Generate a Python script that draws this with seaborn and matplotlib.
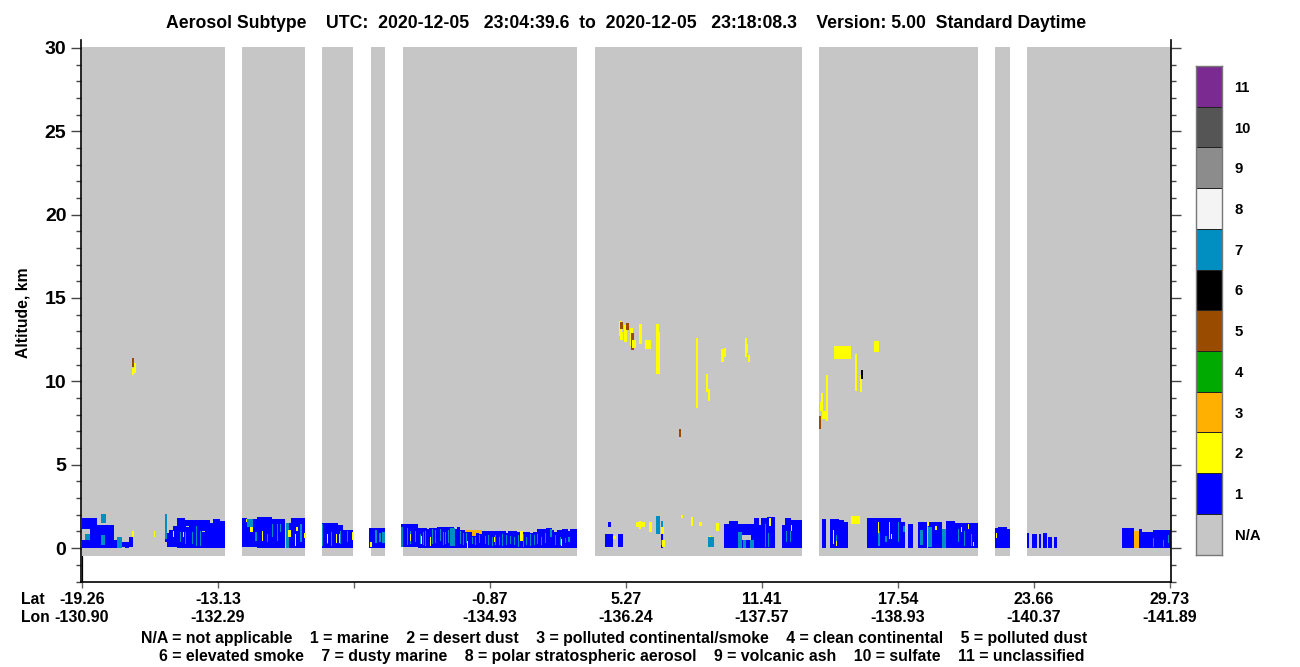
import numpy as np
import matplotlib
matplotlib.use("Agg")
import matplotlib.pyplot as plt
from matplotlib.colors import ListedColormap
import seaborn as sns

# ==========================================
# DATA (profile number along track, km)
# ==========================================

n_profiles = 1089
alt_bottom = -0.46
alt_top = 30.06
alt_step = 0.06

# stretches of track with data (profile start, profile end)
swaths = [(0, 143), (160, 223), (240, 271), (289, 303), (321, 495),
          (513, 720), (737, 896), (913, 928), (945, 1089)]

# layers: (profile start, profile end, base km, top km)
marine = [
    (0, 15, 1.16, 1.8), (0, 32, 1.16, 1.42), (8, 32, .5, 1.16), (0, 36, 0, .5),
    (40, 43, .06, .36), (43, 47, 0, .36), (47, 51, .06, .66),
    (83, 85, .4, .56), (85, 87, .1, .9), (87, 91, .06, 1.1), (91, 95, .1, 1.36),
    (95, 103, 0, 1.8), (103, 128, 0, 1.7), (128, 131, 0, 1.5), (131, 138, 0, 1.74), (138, 143, 0, 1.64),
    (160, 165, .06, 1.8), (165, 175, .06, 1.74), (175, 190, .02, 1.86), (190, 203, .02, 1.78),
    (207, 209, 0, 1.54), (209, 223, 0, 1.8),
    (240, 256, 0, 1.5), (256, 261, 0, 1.4), (261, 271, 0, 1.1),
    (287, 303, 0, 1.2),
    (319, 336, .06, 1.44), (336, 355, .02, 1.2), (355, 378, .02, 1.28), (378, 398, .02, 1.1),
    (398, 435, .02, 1.04), (435, 455, .02, 1.0), (455, 464, .02, 1.14), (464, 470, .02, 1.24),
    (470, 480, .02, 1.09), (480, 495, .02, 1.18),
    (526, 529, 1.26, 1.56), (523, 531, .06, .86), (536, 541, .06, .86), (579, 581, 0, .86),
    (642, 647, 0, 1.46), (647, 656, 0, 1.64), (656, 672, 0, 1.46), (672, 677, 0, 1.8),
    (677, 679, 0, 1.4), (679, 685, 0, 1.8), (685, 693, 0, 1.86),
    (700, 703, 0, 1.4), (703, 709, 0, 1.8), (709, 720, 0, 1.7),
    (740, 744, 0, 1.76), (748, 757, 0, 1.76), (757, 762, 0, 1.7), (762, 766, 0, 1.6),
    (785, 819, 0, 1.8), (819, 823, 0, 1.6), (826, 831, 0, 1.44), (836, 845, 0, 1.6),
    (846, 860, 0, 1.6), (864, 873, 0, 1.66), (873, 896, 0, 1.5),
    (913, 916, 0, 1.24), (916, 925, 0, 1.26), (925, 928, 0, 1.14),
    (945, 947, 0, .9), (950, 955, 0, .86), (957, 959, 0, .86), (961, 965, 0, .9),
    (966, 970, 0, .7), (972, 975, 0, .7),
    (1040, 1052, 0, 1.2), (1057, 1060, 0, 1.14), (1060, 1071, 0, .96), (1071, 1089, 0, 1.1),
]

# clear holes inside the marine layer
clear_air = [(104, 107, 1.26, 1.32), (120, 123, .98, 1.04), (660, 669, .5, .82), (677, 679, 1.4, 1.8),
             (807, 808, .56, 1.6), (345, 347, 1.14, 1.2), (372, 375, 1.18, 1.28), (424, 426, .94, 1.04),
             (448, 451, .92, 1.0), (472, 475, .99, 1.09), (486, 488, 1.04, 1.18)]

dusty_marine = [
    (19, 24, 1.54, 2.06), (3, 8, .5, .86), (19, 23, .22, .82), (35, 40, 0, .7),
    (83, 85, .56, 2.06), (98, 99, .36, .96), (103, 104, .26, .96), (110, 111, .26, .96),
    (114, 115, .16, 1.36), (118, 119, .16, 1.06),
    (165, 171, 1.3, 1.76), (173, 175, .46, .96), (185, 186, .36, .86), (190, 191, .66, 1.46),
    (195, 196, .46, 1.46), (198, 199, .96, 1.46), (204, 207, 0, 1.54), (218, 220, .36, 1.46),
    (240, 241, .16, 1.46), (245, 246, .26, .86), (249, 250, .16, .96), (258, 259, .26, 1.06), (265, 266, .36, 1.06),
    (293, 295, .3, 1.1), (297, 299, .4, .9), (300, 303, .3, 1.0),
    (319, 321, .06, 1.26), (325, 326, .2, 1.2), (328, 329, .26, 1.06), (333, 334, .36, 1.06), (338, 339, .26, .86),
    (341, 342, .2, 1.0), (343, 344, .16, 1.06), (350, 351, .26, 1.16), (353, 354, .3, 1.1),
    (358, 359, .46, 1.16), (361, 362, .2, 1.0), (363, 364, .26, .96), (366, 367, .3, 1.1),
    (368, 373, .16, 1.22), (378, 379, .26, 1.06), (381, 382, .2, .9), (384, 385, .3, .9),
    (390, 391, .26, .66), (393, 394, .2, .7), (397, 398, .3, .8), (403, 404, .26, .76),
    (406, 407, .2, .8), (410, 411, .16, .66), (413, 414, .2, .8), (417, 418, .2, .7),
    (420, 421, .16, .86), (424, 425, .2, .8), (428, 429, .26, .76), (432, 433, .2, .7), (436, 437, .1, .8),
    (441, 442, .06, .86), (444, 445, .2, .7), (448, 449, .16, .86), (452, 453, .2, .8), (455, 456, .26, .86),
    (459, 460, .2, .7), (463, 464, .3, .9), (468, 470, .66, 1.16), (473, 474, .2, .8), (478, 479, .2, .7),
    (483, 484, .3, .6), (486, 488, .36, .66),
    (574, 578, .86, 1.96), (579, 581, 1.3, 1.62), (579, 581, .2, .5),
    (626, 632, .06, .7), (656, 660, 0, .96), (661, 664, 0, .5), (668, 672, 0, .5),
    (683, 684, .1, 1.46), (686, 687, .1, .9), (704, 705, .36, 1.06), (708, 709, .36, 1.06),
    (754, 755, .4, .8), (772, 774, 1.76, 1.96), (796, 798, .16, 1.06), (803, 805, .36, .76),
    (816, 817, .36, 1.56), (821, 823, .96, 1.36), (838, 841, .2, 1.1), (846, 850, .1, 1.26),
    (860, 864, 0, 1.16), (876, 877, .36, 1.16), (882, 883, .16, 1.06), (889, 890, .16, .86),
    (1071, 1072, .1, .6), (1081, 1082, .1, .5), (1086, 1087, .3, .8),
]

desert_dust = [
    (50, 52, .7, 1.06), (72, 73, .7, 1.06), (91, 92, .7, 1.06), (101, 102, .7, .96),
    (164, 165, 1.56, 1.76), (168, 171, .96, 1.3), (180, 181, .42, 1.06),
    (206, 209, .7, 1.1), (213, 214, .16, .86), (214, 216, 1.02, 1.3), (222, 224, .6, .94),
    (245, 246, .3, .86), (254, 255, .3, .86), (257, 258, .3, .86), (270, 271, .5, .96),
    (288, 290, .1, .36), (328, 329, .46, .86), (339, 340, .26, .76), (348, 349, .16, .66),
    (385, 386, 0, .46), (412, 413, .36, .66), (438, 441, .46, 1.06), (479, 480, .16, .56),
    (531, 534, .56, .76), (554, 563, 1.26, 1.56), (557, 559, 1.16, 1.66), (567, 570, .96, 1.56),
    (568, 570, .96, 1.56), (579, 582, .86, 1.3), (580, 583, .1, .5),
    (599, 601, 1.8, 2.02), (609, 611, 1.36, 1.86), (617, 620, 1.36, 1.6), (634, 637, 1.06, 1.54),
    (627, 629, .7, .76), (687, 689, 1.36, 1.82), (709, 710, 1.02, 1.42),
    (751, 752, .26, 1.1), (754, 755, .16, .46), (769, 778, 1.46, 1.96),
    (796, 797, .9, 1.6), (809, 810, .56, .86), (845, 847, 1.36, 1.56), (853, 855, 1.1, 1.36),
    (879, 880, .96, 1.3), (886, 887, 1.16, 1.46), (891, 892, .16, .36), (914, 915, .6, .9),
    # upper layers
    (50, 52, 10.4, 10.8), (52, 54, 10.5, 11.1),
    (537, 540, 12.72, 13.62), (538, 541, 12.52, 12.98), (542, 545, 12.36, 13.38),
    (548, 551, 12.12, 13.2), (557, 560, 12.24, 13.44), (563, 569, 11.94, 12.48),
    (574, 577, 10.48, 13.44), (575, 578, 10.44, 12.96), (614, 616, 8.4, 12.6),
    (624, 626, 9.36, 10.44), (626, 628, 8.82, 9.54), (639, 642, 11.16, 11.94),
    (642, 644, 11.46, 12.0), (663, 665, 11.46, 12.6), (664, 666, 11.7, 12.24), (666, 668, 11.16, 11.58),
    (752, 769, 11.34, 12.12), (792, 797, 11.76, 12.42), (773, 775, 9.42, 11.64), (778, 780, 9.36, 10.38),
    (744, 746, 7.62, 10.38), (739, 741, 8.22, 9.3), (738, 740, 8.22, 8.76), (740, 744, 7.74, 8.22),
]

polluted_continental = [(383, 390, .98, 1.1), (390, 394, .76, 1.12), (394, 397, .9, 1.12), (397, 400, .84, 1.1),
                        (1052, 1057, 0, 1.06)]

polluted_dust = [(50, 52, 10.86, 11.4), (538, 541, 13.14, 13.56), (544, 547, 13.08, 13.5),
                 (549, 552, 11.88, 12.9), (597, 599, 6.66, 7.14), (737, 739, 7.14, 7.92)]

elevated_smoke = [(779, 781, 10.14, 10.68)]

# layers drawn after the brown ones
desert_dust_over = [(550, 554, 12.0, 12.48)]

lat_labels = ["-19.26", "-13.13", "", "-0.87", "5.27", "11.41", "17.54", "23.66", "29.73"]
lon_labels = ["-130.90", "-132.29", "", "-134.93", "-136.24", "-137.57", "-138.93", "-140.37", "-141.89"]
tick_profiles = [0, 136, 272, 408, 544, 680, 816, 952, 1088]

class_labels = ["11", "10", "9", "8", "7", "6", "5", "4", "3", "2", "1", "N/A"]
class_colors = ["#c6c6c6", "#0000ff", "#ffff00", "#ffb000", "#00aa00", "#994c00",
                "#000000", "#008fc0", "#f4f4f4", "#8c8c8c", "#555555", "#7a2a90"]

# ==========================================
# BUILD THE GRID
# ==========================================

n_rows = int(round((alt_top - alt_bottom) / alt_step))
grid = np.full((n_rows, n_profiles), np.nan)


def row_of(alt):
    return (alt - alt_bottom) / alt_step


def paint(layers, value):
    for p0, p1, base, top in layers:
        grid[int(round(row_of(base))):int(round(row_of(top))), p0:p1] = value


for p0, p1 in swaths:
    grid[:, p0:p1] = 0

paint(marine, 1)
paint(clear_air, 0)
paint(dusty_marine, 7)
paint(desert_dust, 2)
paint(polluted_continental, 3)
paint(polluted_dust, 5)
paint(desert_dust_over, 2)
paint(elevated_smoke, 6)

# ==========================================
# PLOT
# ==========================================

sns.set_theme(style="ticks")
plt.rcParams["font.family"] = ["Liberation Sans", "DejaVu Sans"]
plt.rcParams["font.weight"] = "bold"
plt.rcParams["text.color"] = "black"

W, H = 1300, 667
fig = plt.figure(figsize=(13, 6.67), dpi=100)
ax = fig.add_axes([81 / W, 1 - 581.5 / H, 1089.5 / W, 541.5 / H])

cmap = ListedColormap(class_colors)
sns.heatmap(grid, ax=ax, cmap=cmap, vmin=-0.5, vmax=11.5, cbar=False,
            xticklabels=False, yticklabels=False)

ax.set_xlim(-1, 1088.5)
ax.set_ylim(row_of(-2), row_of(30.47))
ax.set_facecolor("white")

for side in ["left", "right", "bottom"]:
    ax.spines[side].set_visible(True)
    ax.spines[side].set_color("black")
    ax.spines[side].set_linewidth(1.2)
ax.spines["top"].set_visible(False)
ax.plot([0.3, 0.3], [row_of(-2), row_of(-0.46)], color="black", lw=0.9)

ax.set_yticks([row_of(a) for a in range(0, 31, 5)])
ax.set_yticklabels([str(a) for a in range(0, 31, 5)], fontsize=14, fontweight="bold", rotation=0)
ax.set_yticks([row_of(a) for a in range(-2, 31) if a % 5 != 0], minor=True)
ax.tick_params(axis="y", which="major", left=True, right=True, length=7.5, width=1, color="#444444",
               labelcolor="black", pad=3)
ax.tick_params(axis="y", which="minor", left=True, right=True, length=3.6, width=1, color="#444444")

ax.set_xticks(tick_profiles)
ax.set_xticklabels([a + "\n" + b for a, b in zip(lat_labels, lon_labels)],
                   fontsize=11.5, fontweight="bold", linespacing=1.22, rotation=0)
ax.tick_params(axis="x", which="major", bottom=True, length=4.5, width=1, color="#666666",
               labelcolor="black", pad=3)

fig.text(23 / W, 1 - 313 / H, "Altitude, km", rotation=90, ha="center", va="center", fontsize=11.3)
fig.text(626 / W, 1 - 24 / H,
         "Aerosol Subtype    UTC:  2020-12-05   23:04:39.6  to  2020-12-05   23:18:08.3    Version: 5.00  Standard Daytime",
         ha="center", va="center", fontsize=12.7)
fig.text(21 / W, 1 - 600 / H, "Lat", ha="left", va="center", fontsize=11.3)
fig.text(21 / W, 1 - 618 / H, "Lon", ha="left", va="center", fontsize=11.3)
fig.text(141 / W, 1 - 639 / H,
         "N/A = not applicable    1 = marine    2 = desert dust    3 = polluted continental/smoke    4 = clean continental    5 = polluted dust",
         ha="left", va="center", fontsize=11.43)
fig.text(159 / W, 1 - 657 / H,
         "6 = elevated smoke    7 = dusty marine    8 = polar stratospheric aerosol    9 = volcanic ash    10 = sulfate    11 = unclassified",
         ha="left", va="center", fontsize=11.43)

# colour key
cax = fig.add_axes([1196 / W, 1 - 554.5 / H, 26 / W, 488.5 / H])
key = np.arange(len(class_labels))[::-1].reshape(-1, 1)
sns.heatmap(key, ax=cax, cmap=cmap, vmin=-0.5, vmax=11.5, cbar=False, linewidths=0.5, linecolor="#222222",
            xticklabels=False, yticklabels=class_labels)
cax.yaxis.tick_right()
cax.tick_params(axis="y", length=0, pad=9, labelcolor="black")
for label in cax.get_yticklabels():
    label.set_rotation(0)
    label.set_fontsize(10.7)
    label.set_fontweight("bold")
for spine in cax.spines.values():
    spine.set_visible(True)
    spine.set_color("#777777")
    spine.set_linewidth(1.0)

plt.savefig("out.png", dpi=100)
